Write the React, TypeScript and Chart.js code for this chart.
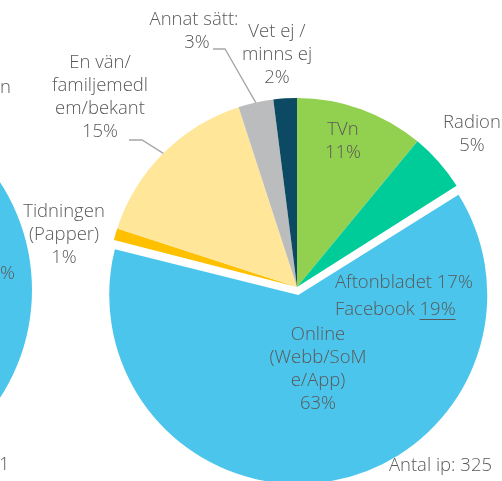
import React, { useEffect, useRef } from 'react';
import { Chart, registerables } from 'chart.js';

Chart.register(...registerables);

// ---- Data ----
const categories = [
  'TVn',
  'Radion',
  'Online (Webb/SoMe/App)',
  'Tidningen (Papper)',
  'En vän/familjemedlem/bekant',
  'Annat sätt:',
  'Vet ej / minns ej',
];
const shares = [11, 5, 63, 1, 15, 3, 2];
const sliceColors = ['#92D050', '#00CC99', '#4BC5EB', '#FFC000', '#FFE699', '#BBBCBE', '#0B4A62'];
const sliceLabelLines = [
  ['TVn', '11%'],
  ['Radion', '5%'],
  ['Online', '(Webb/SoM', 'e/App)', '63%'],
  ['Tidningen', '(Papper)', '1%'],
  ['En vän/', 'familjemedl', 'em/bekant', '15%'],
  ['Annat sätt:', '3%'],
  ['Vet ej /', 'minns ej', '2%'],
];
const onlineDetailLabels = ['Aftonbladet 17%', 'Facebook '];
const onlineDetailUnderlined = '19%';
const respondentsLabel = 'Antal ip: 325';

// neighbouring (cut-off) chart on the left
const leftCategories = ['Online'];
const leftShares = [100];
const leftTexts = ['n', '%'];
const leftRespondentsLabel = 'Antal ip: 91';

const FONT = '300 18.5px "Open Sans", "Noto Sans", sans-serif';
const TEXT_COLOR = '#595959';
const LINE_H = 23;
const EXPLODE = 8; // px the Online slice is pulled out

function drawLines(ctx: CanvasRenderingContext2D, lines: string[], x: number, y: number) {
  lines.forEach((l, i) => ctx.fillText(l, x, y + i * LINE_H));
}

// keep the exploded slice the same radius as the others
const explodeFixPlugin = {
  id: 'explodeFix',
  beforeDatasetsDraw(chart: any) {
    const meta = chart.getDatasetMeta(0);
    const base = meta.controller.outerRadius;
    meta.data.forEach((arc: any, i: number) => {
      arc.outerRadius = i === 2 ? base - EXPLODE : base;
    });
  },
};

const mainLabelsPlugin = {
  id: 'mainLabels',
  afterDatasetsDraw(chart: any) {
    const ctx: CanvasRenderingContext2D = chart.ctx;
    const meta = chart.getDatasetMeta(0);
    ctx.save();
    ctx.font = FONT;
    ctx.fillStyle = TEXT_COLOR;
    ctx.textAlign = 'center';
    ctx.textBaseline = 'middle';

    const anchors: [number, number][] = [
      [343, 130],
      [472, 123],
      [318, 335],
      [64, 212],
      [100, 63],
      [194, 20],
      [277, 32],
    ];
    sliceLabelLines.forEach((lines, i) => {
      const [x, y] = anchors[i];
      if (i === 5) {
        ctx.fillText(lines[0], x, y);
        ctx.fillText(lines[1], x + 3, y + LINE_H);
      } else {
        drawLines(ctx, lines, x, y);
      }
    });

    const edgePoint = (i: number) => {
      const arc = meta.data[i];
      const mid = (arc.startAngle + arc.endAngle) / 2;
      const r = arc.outerRadius;
      return [arc.x + Math.cos(mid) * r, arc.y + Math.sin(mid) * r];
    };
    ctx.strokeStyle = '#A6A6A6';
    ctx.lineWidth = 1.3;
    const leaders: { i: number; pts: [number, number][] }[] = [
      { i: 5, pts: [[213, 49], [225, 49]] },
      { i: 4, pts: [[129, 140], [142, 140]] },
    ];
    leaders.forEach(({ i, pts }) => {
      const [ex, ey] = edgePoint(i);
      ctx.beginPath();
      ctx.moveTo(pts[0][0], pts[0][1]);
      for (let k = 1; k < pts.length; k++) ctx.lineTo(pts[k][0], pts[k][1]);
      ctx.lineTo(ex, ey);
      ctx.stroke();
    });

    ctx.textAlign = 'left';
    ctx.fillText(onlineDetailLabels[0], 335, 283);
    ctx.fillText(onlineDetailLabels[1], 335, 310);
    const fbW = ctx.measureText(onlineDetailLabels[1]).width;
    ctx.fillText(onlineDetailUnderlined, 335 + fbW, 310);
    const uW = ctx.measureText(onlineDetailUnderlined).width;
    ctx.strokeStyle = TEXT_COLOR;
    ctx.lineWidth = 1;
    ctx.beginPath();
    ctx.moveTo(335 + fbW, 319.5);
    ctx.lineTo(335 + fbW + uW, 319.5);
    ctx.stroke();

    ctx.textAlign = 'right';
    ctx.fillText(respondentsLabel, 492, 466);
    ctx.restore();
  },
};

const LEFT_OX = 400; // left canvas begins at page x = -400

const leftLabelsPlugin = {
  id: 'leftLabels',
  afterDatasetsDraw(chart: any) {
    const ctx: CanvasRenderingContext2D = chart.ctx;
    ctx.save();
    ctx.font = FONT;
    ctx.fillStyle = TEXT_COLOR;
    ctx.textBaseline = 'middle';
    ctx.textAlign = 'left';
    ctx.fillText(leftTexts[0], LEFT_OX + 0, 88);
    ctx.fillText(leftTexts[1], LEFT_OX + 0, 274);
    ctx.textAlign = 'right';
    ctx.fillText(leftRespondentsLabel, LEFT_OX + 9.5, 465);
    ctx.restore();
  },
};

export default function App() {
  const mainRef = useRef<HTMLCanvasElement>(null);
  const leftRef = useRef<HTMLCanvasElement>(null);

  useEffect(() => {
    const main = new Chart(mainRef.current!, {
      type: 'pie',
      data: {
        labels: categories,
        datasets: [
          {
            data: shares,
            backgroundColor: sliceColors,
            borderWidth: 0,
            offset: shares.map((_, i) => (i === 2 ? EXPLODE * 4 : 0)),
          },
        ],
      },
      options: {
        animation: false,
        responsive: false,
        radius: 189,
        layout: { padding: { left: 92, right: 0, top: 93, bottom: 0 } },
        plugins: { legend: { display: false }, tooltip: { enabled: false } },
      } as any,
      plugins: [explodeFixPlugin, mainLabelsPlugin],
    });
    const left = new Chart(leftRef.current!, {
      type: 'pie',
      data: {
        labels: leftCategories,
        datasets: [{ data: leftShares, backgroundColor: ['#4BC5EB'], borderWidth: 0 }],
      },
      options: {
        animation: false,
        responsive: false,
        radius: 198,
        layout: { padding: { left: 18, right: 0, top: 99, bottom: 0 } },
        plugins: { legend: { display: false }, tooltip: { enabled: false } },
      } as any,
      plugins: [leftLabelsPlugin],
    });
    return () => {
      main.destroy();
      left.destroy();
    };
  }, []);

  return (
    <div style={{ position: 'fixed', left: 0, top: 0, width: 502, height: 481, overflow: 'hidden', background: '#fff' }}>
      <canvas ref={leftRef} width={450} height={481} style={{ position: 'absolute', left: -LEFT_OX, top: 0 }} />
      <canvas ref={mainRef} width={502} height={481} style={{ position: 'absolute', left: 0, top: 0 }} />
    </div>
  );
}
